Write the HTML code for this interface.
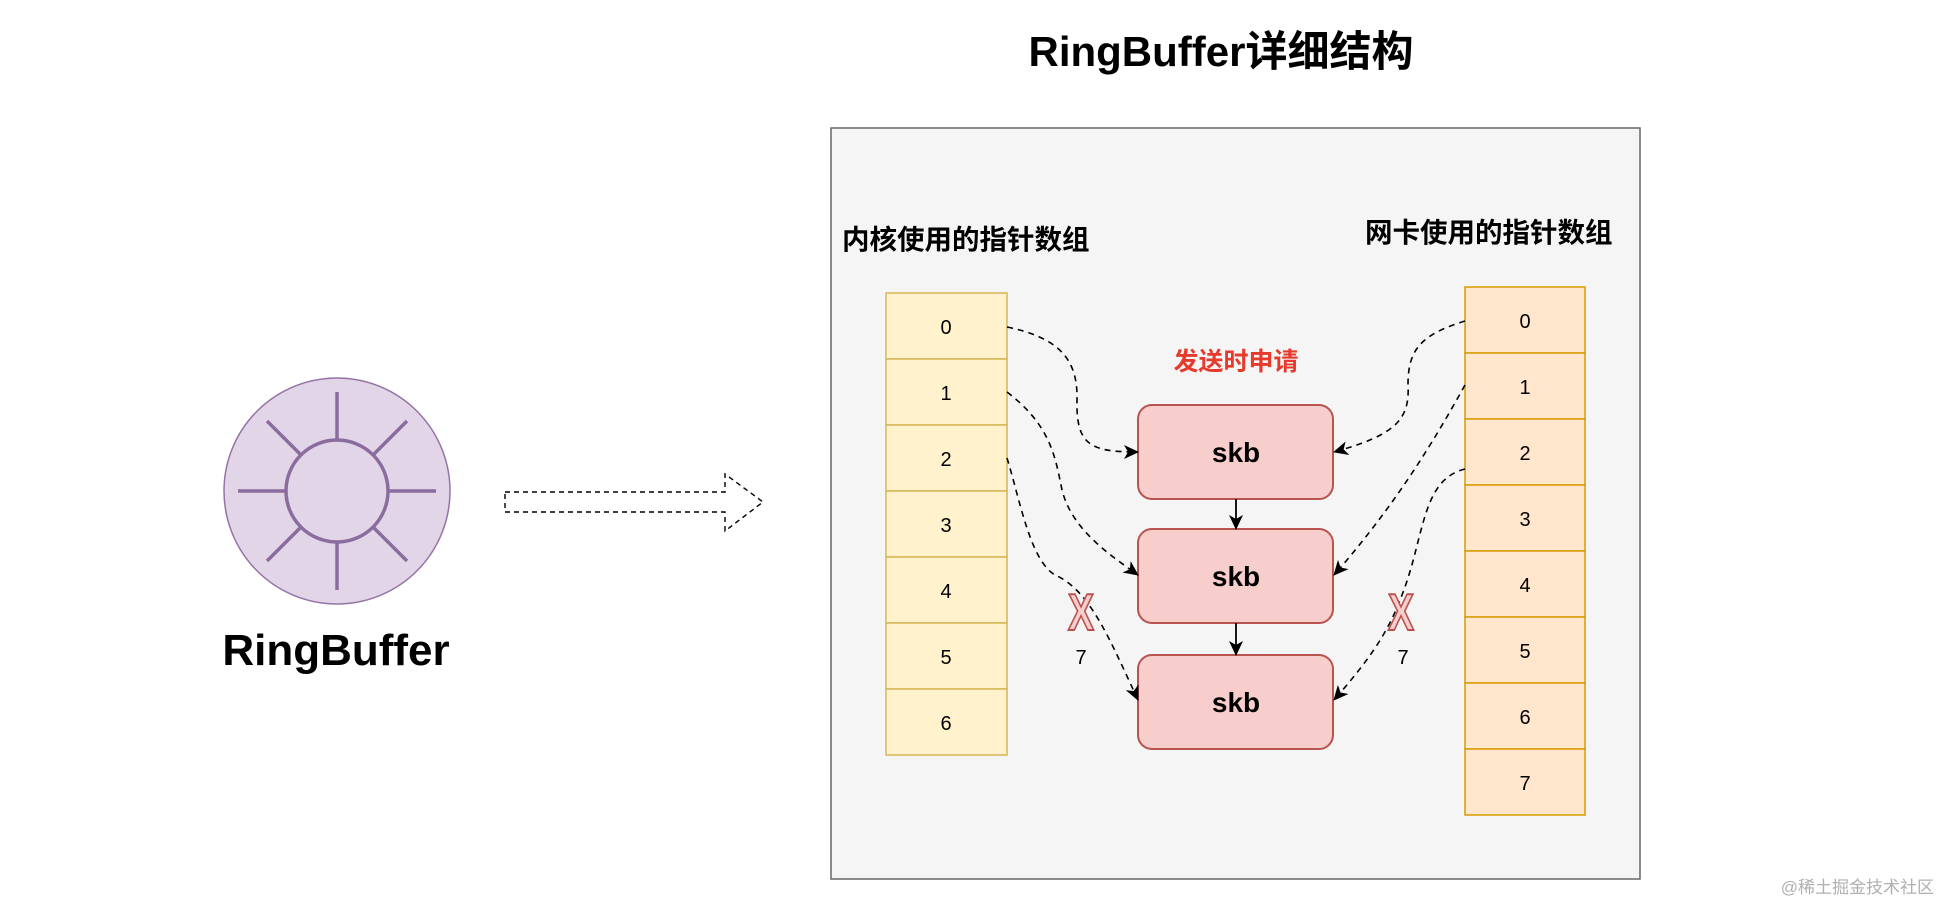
<!DOCTYPE html>
<html><head><meta charset="utf-8"><style>
html,body{margin:0;padding:0;background:#fff;}
svg{display:block;}
text{font-family:"Liberation Sans","Noto Sans CJK SC",sans-serif;}
</style></head><body>
<svg width="1938" height="904" viewBox="0 0 1938 904" xmlns="http://www.w3.org/2000/svg">
<defs>
<marker id="ah" markerWidth="16" markerHeight="16" refX="14" refY="8" orient="auto" markerUnits="userSpaceOnUse">
<path d="M0,1 L15,8 L0,15 L4,8 Z" fill="#000"/>
</marker>
</defs>
<text x="1221" y="66" font-size="42" font-weight="bold" text-anchor="middle" fill="#000">RingBuffer详细结构</text>
<rect x="831" y="128" width="809" height="751" fill="#f5f5f5" stroke="#666" stroke-width="1.5"/>
<text x="842" y="249" font-size="27.5" font-weight="bold" fill="#000">内核使用的指针数组</text>
<text x="1365" y="242" font-size="27.5" font-weight="bold" fill="#000">网卡使用的指针数组</text>
<g fill="#fff2cc" stroke="#d6b656" stroke-width="1.5">
<rect x="886" y="293" width="121" height="66"/><rect x="886" y="359" width="121" height="66"/>
<rect x="886" y="425" width="121" height="66"/><rect x="886" y="491" width="121" height="66"/>
<rect x="886" y="557" width="121" height="66"/><rect x="886" y="623" width="121" height="66"/>
<rect x="886" y="689" width="121" height="66"/>
</g>
<g font-size="20" text-anchor="middle" fill="#000">
<text x="946" y="334">0</text><text x="946" y="400">1</text><text x="946" y="466">2</text>
<text x="946" y="532">3</text><text x="946" y="598">4</text><text x="946" y="664">5</text><text x="946" y="730">6</text>
</g>
<g fill="#ffe6cc" stroke="#d79b00" stroke-width="1.5">
<rect x="1465" y="287" width="120" height="66"/><rect x="1465" y="353" width="120" height="66"/>
<rect x="1465" y="419" width="120" height="66"/><rect x="1465" y="485" width="120" height="66"/>
<rect x="1465" y="551" width="120" height="66"/><rect x="1465" y="617" width="120" height="66"/>
<rect x="1465" y="683" width="120" height="66"/><rect x="1465" y="749" width="120" height="66"/>
</g>
<g font-size="20" text-anchor="middle" fill="#000">
<text x="1525" y="328">0</text><text x="1525" y="394">1</text><text x="1525" y="460">2</text>
<text x="1525" y="526">3</text><text x="1525" y="592">4</text><text x="1525" y="658">5</text>
<text x="1525" y="724">6</text><text x="1525" y="790">7</text>
</g>
<text x="1236" y="370" font-size="25" font-weight="bold" text-anchor="middle" fill="#e53a2c">发送时申请</text>
<g fill="#f8cecc" stroke="#b85450" stroke-width="2">
<rect x="1138" y="405" width="195" height="94" rx="14"/>
<rect x="1138" y="529" width="195" height="94" rx="14"/>
<rect x="1138" y="655" width="195" height="94" rx="14"/>
</g>
<g font-size="28" font-weight="bold" text-anchor="middle" fill="#000">
<text x="1236" y="462">skb</text><text x="1236" y="586">skb</text><text x="1236" y="712">skb</text>
</g>
<g stroke="#000" stroke-width="1.8" fill="none">
<path d="M1236,499 L1236,529" marker-end="url(#ah)"/>
<path d="M1236,623 L1236,655" marker-end="url(#ah)"/>
</g>
<g stroke="#000" stroke-width="1.6" fill="none" stroke-dasharray="6,5">
<path d="M1007,327 C1060,338 1078,360 1077,400 C1076,445 1090,452 1138,452" marker-end="url(#ah)"/>
<path d="M1007,392 C1050,425 1055,455 1062,490 C1072,530 1110,555 1138,575" marker-end="url(#ah)"/>
<path d="M1007,458 C1020,500 1030,560 1055,575 C1090,590 1110,640 1138,700" marker-end="url(#ah)"/>
<path d="M1465,321 C1420,335 1408,350 1408,385 C1410,420 1395,435 1334,452" marker-end="url(#ah)"/>
<path d="M1465,385 C1440,430 1400,500 1334,575" marker-end="url(#ah)"/>
<path d="M1465,469 C1420,480 1425,540 1400,600 C1385,640 1360,670 1334,700" marker-end="url(#ah)"/>
</g>
<g font-size="52" font-weight="bold" text-anchor="middle" fill="#f8cecc" stroke="#b85450" stroke-width="2">
<text transform="translate(1081,630) scale(0.75,1)">X</text>
<text transform="translate(1401,630) scale(0.75,1)">X</text>
</g>
<g font-size="20" text-anchor="middle" fill="#000">
<text x="1081" y="664">7</text><text x="1403" y="664">7</text>
</g>
<circle cx="337" cy="491" r="113" fill="#e1d5e7" stroke="#9673a6" stroke-width="1.5"/>
<circle cx="337" cy="491" r="51" fill="none" stroke="#8a6d9e" stroke-width="3.5"/>
<g stroke="#8a6d9e" stroke-width="3.5">
<line x1="388" y1="491" x2="436" y2="491"/><line x1="286" y1="491" x2="238" y2="491"/>
<line x1="337" y1="440" x2="337" y2="392"/><line x1="337" y1="542" x2="337" y2="590"/>
<line x1="373" y1="455" x2="407" y2="421"/><line x1="301" y1="455" x2="267" y2="421"/>
<line x1="373" y1="527" x2="407" y2="561"/><line x1="301" y1="527" x2="267" y2="561"/>
</g>
<text x="336" y="665" font-size="44" font-weight="bold" text-anchor="middle" fill="#000">RingBuffer</text>
<path d="M505,492 L725,492 L725,474 L763,502 L725,531 L725,512 L505,512 Z" fill="none" stroke="#000" stroke-width="1.4" stroke-dasharray="5,4"/>
<text x="1934" y="893" font-size="17" text-anchor="end" fill="#b0b0b0">@稀土掘金技术社区</text>
</svg>
</body></html>
